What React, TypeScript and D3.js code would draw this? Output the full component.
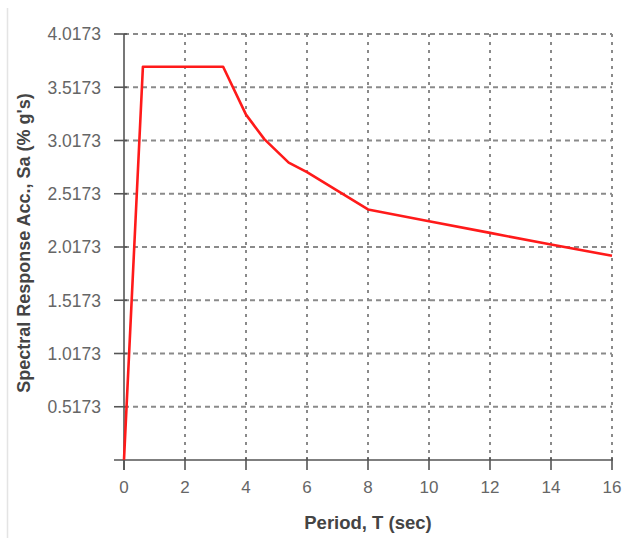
import React from "react";
import * as d3 from "d3";

const periods = [0, 0.62, 3.25, 4.0, 4.6, 5.4, 6.0, 8.0, 10, 12, 14, 16];
const accels = [0.02, 3.71, 3.71, 3.26, 3.03, 2.81, 2.72, 2.37, 2.26, 2.15, 2.04, 1.935];
const xTicks = [0, 2, 4, 6, 8, 10, 12, 14, 16];
const yTicks = [0.5173, 1.0173, 1.5173, 2.0173, 2.5173, 3.0173, 3.5173, 4.0173];
const yTickLabels = ["0.5173", "1.0173", "1.5173", "2.0173", "2.5173", "3.0173", "3.5173", "4.0173"];

export default function App() {
  const W = 622, H = 538;
  const left = 124, right = 612, top = 34, bottom = 460;
  const x = d3.scaleLinear().domain([0, 16]).range([left, right]);
  const y = d3.scaleLinear().domain([0.0173, 4.0173]).range([bottom, top]);
  const pts = periods.map((p, i) => [p, accels[i]] as [number, number]);
  const line = d3.line<[number, number]>().x(d => x(d[0])).y(d => y(d[1]));
  const font = "'Liberation Sans', Arial, sans-serif";
  return (
    <svg width={W} height={H} style={{ position: "absolute", left: 0, top: 0, background: "#fff" }}>
      <line x1={7.5} x2={7.5} y1={8} y2={H} stroke="#e4e4e4" strokeWidth={1.5} />
      {/* grid */}
      {xTicks.filter(t => t > 0).map(t => (
        <line key={"gx" + t} x1={x(t)} x2={x(t)} y1={top} y2={bottom} stroke="#8a8a8a" strokeWidth={2} strokeDasharray="3,5" />
      ))}
      {yTicks.map(t => (
        <line key={"gy" + t} x1={left} x2={right} y1={y(t)} y2={y(t)} stroke="#8a8a8a" strokeWidth={2} strokeDasharray="5,4" />
      ))}
      {/* axes */}
      <line x1={left} x2={left} y1={top} y2={bottom + 10} stroke="#555" strokeWidth={1.6} />
      <line x1={left - 10} x2={right + 1} y1={bottom} y2={bottom} stroke="#555" strokeWidth={1.6} />
      {yTicks.map(t => (
        <line key={"ty" + t} x1={left - 10} x2={left + 3} y1={y(t)} y2={y(t)} stroke="#555" strokeWidth={1.6} />
      ))}
      {xTicks.map(t => (
        <line key={"tx" + t} x1={x(t)} x2={x(t)} y1={bottom - 3} y2={bottom + 10} stroke="#555" strokeWidth={1.6} />
      ))}
      {yTicks.map((t, i) => (
        <text key={"ly" + t} x={left - 23} y={y(t)} dy="0.36em" textAnchor="end" fontFamily={font} fontSize={17.5} fill="#666">{yTickLabels[i]}</text>
      ))}
      {xTicks.map(t => (
        <text key={"lx" + t} x={x(t)} y={bottom + 33} textAnchor="middle" fontFamily={font} fontSize={17} fill="#666">{t}</text>
      ))}
      <path d={line(pts) || ""} fill="none" stroke="#ff1a1a" strokeWidth={2.6} strokeLinejoin="round" />
      <text x={368} y={529} textAnchor="middle" fontFamily={font} fontSize={18.5} fontWeight="bold" fill="#444">Period, T (sec)</text>
      <text transform={`translate(30,243) rotate(-90)`} textAnchor="middle" fontFamily={font} fontSize={18} fontWeight="bold" fill="#444">Spectral Response Acc., Sa (% g's)</text>
    </svg>
  );
}
